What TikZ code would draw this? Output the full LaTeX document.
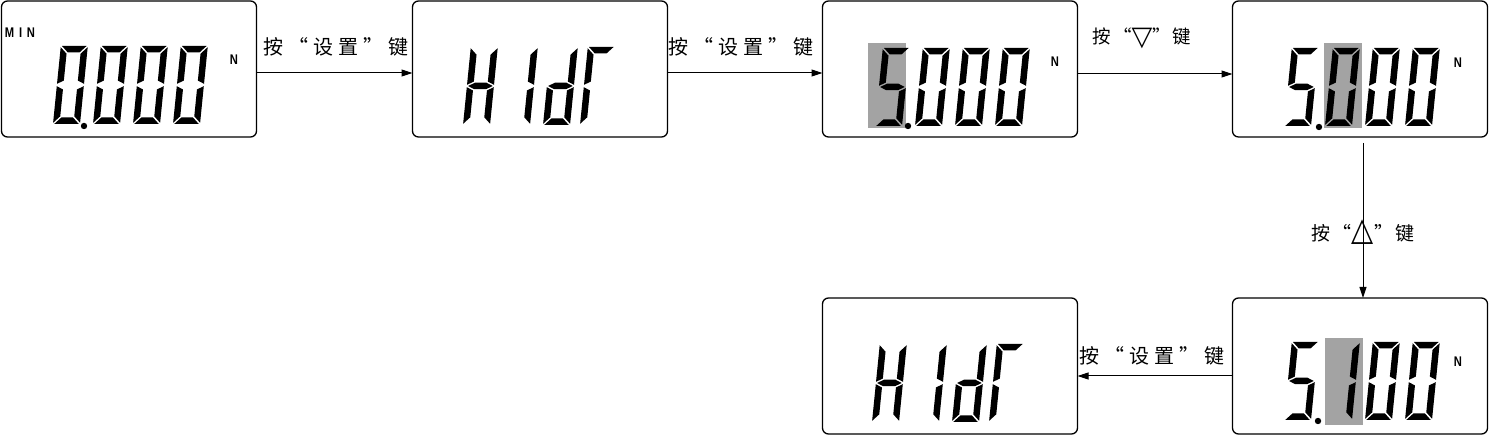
\documentclass[tikz,border=0pt]{standalone}
\usepackage{fontspec}
\usepackage{graphicx}
\setmainfont{Liberation Sans}
\newfontfamily\cjk{Noto Sans CJK SC}
\newfontfamily\symf{DejaVu Sans}
\usetikzlibrary{arrows.meta}
\definecolor{hl}{RGB}{163,163,163}
% seven-segment pieces in a local upright frame (width 27, height 78)
\newcommand\lcdsega{\fill (1.2,78) -- (25.8,78) -- (19.3,71.5) -- (7.7,71.5) -- cycle;}
\newcommand\lcdsegd{\fill (1.2,0) -- (25.8,0) -- (19.3,6.5) -- (7.7,6.5) -- cycle;}
\newcommand\lcdsegf{\fill (0,76.8) -- (6.5,70.3) -- (6.5,43.45) -- (0,40.2) -- cycle;}
\newcommand\lcdsege{\fill (0,1.2) -- (6.5,7.7) -- (6.5,34.55) -- (0,37.8) -- cycle;}
\newcommand\lcdsegb{\fill (27,76.8) -- (20.5,70.3) -- (20.5,43.45) -- (27,40.2) -- cycle;}
\newcommand\lcdsegc{\fill (27,1.2) -- (20.5,7.7) -- (20.5,34.55) -- (27,37.8) -- cycle;}
\newcommand\lcdsegg{\fill (1.2,39) -- (7.7,42.25) -- (19.3,42.25) -- (25.8,39) -- (19.3,35.75) -- (7.7,35.75) -- cycle;}
\newcommand\lcddigit[3]{\begin{scope}[shift={(#1,#2)},xslant=0.1]\foreach \s in {#3}{\csname lcdseg\s\endcsname}\end{scope}}
\newcommand\lcdzero[2]{\lcddigit{#1}{#2}{a,b,c,d,e,f}}
\newcommand\lcdfive[2]{\lcddigit{#1}{#2}{a,f,g,c,d}}
\newcommand\lcdone[2]{\lcddigit{#1}{#2}{b,c}}
\newcommand\lcdhold[2]{% H 1 d Gamma
  \lcddigit{#1}{#2}{b,c,e,f,g}%
  \lcddigit{\fpeval{#1+40}}{#2}{b,c}%
  \lcddigit{\fpeval{#1+80}}{#2}{b,c,d,e,g}%
  \lcddigit{\fpeval{#1+117}}{#2}{a,e,f}}
\newcommand\lblgap{\hspace{5pt}}
\newcommand\setkey{按\lblgap{}“\lblgap{}设\lblgap{}置\lblgap{}”\lblgap{}键}
\begin{document}
\begin{tikzpicture}[x=1pt,y=1pt,
  lcd/.style={draw, line width=1.3pt, rounded corners=6pt, minimum width=255pt,
    minimum height=136pt, inner sep=0pt, outer sep=0pt},
  arr/.style={line width=1pt, -{Triangle[length=11pt,width=7pt]}},
  lbl/.style={font=\cjk\fontsize{20}{20}\selectfont, inner sep=0pt},
  unit/.style={font=\fontsize{14}{14}\selectfont\bfseries, inner sep=0pt}]
\useasboundingbox (0,0) rectangle (1489,435);
% boxes
\node[lcd] (b1) at (129,366) {};
\node[lcd] (b2) at (540,366) {};
\node[lcd] (b3) at (950,366) {};
\node[lcd] (b4) at (1360,366) {};
\node[lcd] (b5) at (1360,69) {};
\node[lcd] (b6) at (950,69) {};
% highlights
\fill[hl] (868,307) rectangle (906,392);
\fill[hl] (1324,307) rectangle (1362,392);
\fill[hl] (1325,10) rectangle (1363,97);
% box 1: 0.000
\node[unit] (min) at (20,402) {\scalebox{0.8}[1]{M\hspace{6pt}I\hspace{6pt}N}};
\lcdzero{53}{311}\fill (84,309) circle (3.2);
\lcdzero{93}{311}\lcdzero{133}{311}\lcdzero{173}{311}
\node[unit] (n1) at (234,375) {\scalebox{0.8}[1]{N}};
% box 2: HIdr
\lcdhold{463}{310}
% box 3: 5.000
\lcdfive{875}{309}\fill (908,309) circle (3.2);
\lcdzero{915}{309}\lcdzero{955}{309}\lcdzero{995}{309}
\node[unit] (n3) at (1055,373) {\scalebox{0.8}[1]{N}};
% box 4: 5.000
\lcdfive{1284}{309}\fill (1319,308) circle (3.2);
\lcdzero{1325}{309}\lcdzero{1365}{309}\lcdzero{1405}{309}
\node[unit] (n4) at (1458,372) {\scalebox{0.8}[1]{N}};
% box 5: 5.100
\lcdfive{1284}{15}\fill (1318,14) circle (3.2);
\lcdone{1325}{15}\lcdzero{1365}{15}\lcdzero{1405}{15}
\node[unit] (n5) at (1458,73) {\scalebox{0.8}[1]{N}};
% box 6: HIdr
\lcdhold{872}{13}
% connectors
\draw[arr] ([yshift=-4pt]b1.east) -- ([yshift=-4pt]b2.west);
\draw[arr] ([yshift=-4pt]b2.east) -- ([yshift=-4pt]b3.west);
\draw[arr] ([yshift=-5pt]b3.east) -- ([yshift=-5pt]b4.west);
\draw[arr, shorten <=6pt] ([xshift=3pt]b4.south) -- ([xshift=3pt]b5.north);
\draw[arr] ([yshift=-10pt]b5.west) -- ([yshift=-10pt]b6.east);
% labels
\node[lbl] (l1) at (336,388) {\setkey};
\node[lbl] (l2) at (741,388) {\setkey};
\node[lbl, font=\cjk\fontsize{18.5}{18.5}\selectfont] (l3) at (1142,397)
  {按\hspace{2pt}“\raisebox{-2pt}{\symf\fontsize{27}{27}\selectfont ▽}”\hspace{2pt}键};
\node[lbl, font=\cjk\fontsize{19}{19}\selectfont] (l4) at (1363,203)
  {按\hspace{2pt}“\scalebox{1.25}[1.4]{\symf\fontsize{23}{23}\selectfont △}”\hspace{2pt}键};
\node[lbl] (l5) at (1152,79) {\setkey};
\end{tikzpicture}
\end{document}
